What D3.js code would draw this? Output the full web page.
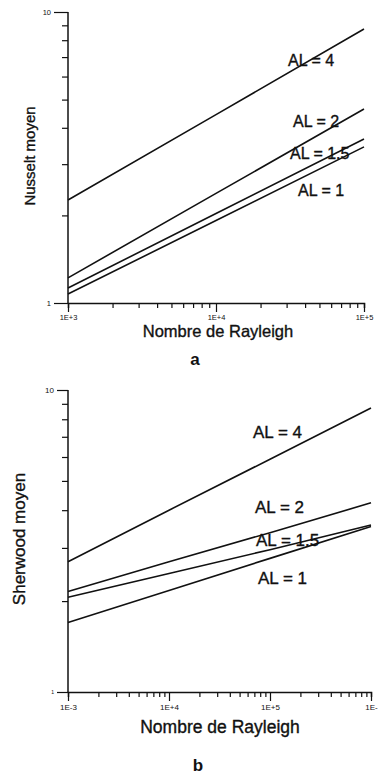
<!DOCTYPE html>
<html>
<head>
<meta charset="utf-8">
<script src="https://cdn.jsdelivr.net/npm/d3@7"></script>
<style>
  html, body { margin: 0; padding: 0; background: #fff; }
  svg { display: block; }
  text { font-family: "Liberation Sans", Arial, Helvetica, sans-serif; fill: #111; }
  .heavy { stroke: #111; stroke-width: 0.35; }
</style>
</head>
<body>
<svg id="chart" width="378" height="777"></svg>
<script>
// ---------- DATA ----------
const seriesNames = ["AL = 4", "AL = 2", "AL = 1.5", "AL = 1"];

// Panel a : Nusselt moyen vs Rayleigh
const rayleighA = [1e3, 1e4, 1e5];
const nuAL4  = [2.26, 4.44, 8.74];
const nuAL2  = [1.22, 2.38, 4.64];
const nuAL15 = [1.126, 2.03, 3.66];
const nuAL1  = [1.074, 1.92, 3.44];

// Panel b : Sherwood moyen vs Rayleigh
const rayleighB = [1e3, 1e4, 1e5, 1e6];
const shAL4  = [2.70, 4.00, 5.90, 8.72];
const shAL2  = [2.15, 2.70, 3.37, 4.23];
const shAL15 = [2.06, 2.47, 2.96, 3.57];
const shAL1  = [1.70, 2.17, 2.77, 3.53];

// Tick labels
const xTickValuesA = [1e3, 1e4, 1e5];
const xTickLabelsA = ["1E+3", "1E+4", "1E+5"];
const xTickValuesB = [1e3, 1e4, 1e5, 1e6];
const xTickLabelsB = ["1E-3", "1E+4", "1E+5", "1E-"];
const yTickValues = [1, 10];
const yTickLabels = ["1", "10"];

// ---------- LAYOUT ----------
const svg = d3.select("#chart");

const panels = [
  {
    xs: rayleighA, series: [nuAL4, nuAL2, nuAL15, nuAL1],
    xDomain: [1e3, 1e5], xRange: [68, 364], yRange: [303, 12],
    xTickValues: xTickValuesA, xTickLabels: xTickLabelsA,
    yLabel: "Nusselt moyen", yLabelX: 35, yLabelY: 156, yLabelSize: 15,
    xLabel: "Nombre de Rayleigh", xLabelX: 218, xLabelY: 337, xLabelSize: 16.5,
    letter: "a", letterX: 195, letterY: 365,
    tickFont: 7.5, yTickFonts: [7.5, 7.5], yMajor: 14,
    labelSize: 16,
    labelPos: [[288, 66], [293, 127], [290, 159], [298, 196]]
  },
  {
    xs: rayleighB, series: [shAL4, shAL2, shAL15, shAL1],
    xDomain: [1e3, 1e6], xRange: [68, 371], yRange: [692, 390],
    xTickValues: xTickValuesB, xTickLabels: xTickLabelsB,
    yLabel: "Sherwood moyen", yLabelX: 25, yLabelY: 539, yLabelSize: 17,
    xLabel: "Nombre de Rayleigh", xLabelX: 220, xLabelY: 733, xLabelSize: 17.5,
    letter: "b", letterX: 198, letterY: 771,
    tickFont: 8, yTickFonts: [5, 8], yMajor: 11,
    labelSize: 17,
    labelPos: [[253, 438], [255, 513], [256, 546], [258, 584]]
  }
];

panels.forEach(p => {
  const x = d3.scaleLog().domain(p.xDomain).range(p.xRange);
  const y = d3.scaleLog().domain([1, 10]).range(p.yRange);
  const g = svg.append("g");

  // minor tick values
  const xMinor = [];
  for (let dec = p.xDomain[0]; dec < p.xDomain[1]; dec *= 10) {
    for (let k = 1; k < 10; k++) xMinor.push(dec * k);
  }
  xMinor.push(p.xDomain[1]);
  const yMinor = d3.range(1, 11);

  // X axis
  const xAxis = d3.axisBottom(x)
    .tickValues(xMinor)
    .tickSize(5)
    .tickPadding(6)
    .tickFormat(d => {
      const i = p.xTickValues.findIndex(v => Math.abs(v - d) / v < 1e-9);
      return i >= 0 ? p.xTickLabels[i] : "";
    });
  const gx = g.append("g")
    .attr("transform", `translate(0,${p.yRange[0]})`)
    .call(xAxis);
  gx.select(".domain").attr("stroke", "#111").attr("stroke-width", 1.5);
  gx.selectAll(".tick line")
    .attr("stroke", "#111").attr("stroke-width", 1.2)
    .attr("y2", d => p.xTickValues.some(v => Math.abs(v - d) / v < 1e-9) ? 9 : 5);
  gx.selectAll(".tick text")
    .attr("font-size", p.tickFont)
    .attr("fill", "#222")
    .attr("font-family", "'Liberation Sans', Arial, sans-serif")
    .attr("y", 12);

  // Y axis
  const yAxis = d3.axisLeft(y)
    .tickValues(yMinor)
    .tickSize(6)
    .tickPadding(4)
    .tickFormat(d => {
      const i = yTickValues.indexOf(d);
      return i >= 0 ? yTickLabels[i] : "";
    });
  const gy = g.append("g")
    .attr("transform", `translate(${p.xRange[0]},0)`)
    .call(yAxis);
  gy.select(".domain").attr("stroke", "#111").attr("stroke-width", 1.5)
    .attr("d", `M0,${p.yRange[0]}V${p.yRange[1]}`);
  gy.selectAll(".tick line")
    .attr("stroke", "#111").attr("stroke-width", 1.2)
    .attr("x2", d => yTickValues.includes(d) ? -p.yMajor : -6);
  gy.selectAll(".tick text")
    .attr("font-family", "'Liberation Sans', Arial, sans-serif")
    .attr("fill", "#222")
    .attr("font-size", d => d === 1 ? p.yTickFonts[0] : p.yTickFonts[1])
    .attr("x", -p.yMajor - 3);

  // Lines
  const line = d3.line()
    .x((d, i) => x(p.xs[i]))
    .y(d => y(d));
  p.series.forEach(s => {
    g.append("path")
      .datum(s)
      .attr("d", line)
      .attr("fill", "none")
      .attr("stroke", "#111")
      .attr("stroke-width", 1.6);
  });

  // Series labels
  seriesNames.forEach((name, i) => {
    g.append("text")
      .attr("class", "heavy")
      .attr("x", p.labelPos[i][0])
      .attr("y", p.labelPos[i][1])
      .attr("font-size", p.labelSize)
      .text(name);
  });

  // Axis titles
  g.append("text")
    .attr("class", "heavy")
    .attr("transform", `translate(${p.yLabelX},${p.yLabelY}) rotate(-90)`)
    .attr("text-anchor", "middle")
    .attr("font-size", p.yLabelSize)
    .text(p.yLabel);
  g.append("text")
    .attr("class", "heavy")
    .attr("x", p.xLabelX)
    .attr("y", p.xLabelY)
    .attr("text-anchor", "middle")
    .attr("font-size", p.xLabelSize)
    .text(p.xLabel);

  // Panel letter
  g.append("text")
    .attr("x", p.letterX)
    .attr("y", p.letterY)
    .attr("text-anchor", "middle")
    .attr("font-size", 17)
    .attr("font-weight", "bold")
    .text(p.letter);
});
</script>
</body>
</html>
